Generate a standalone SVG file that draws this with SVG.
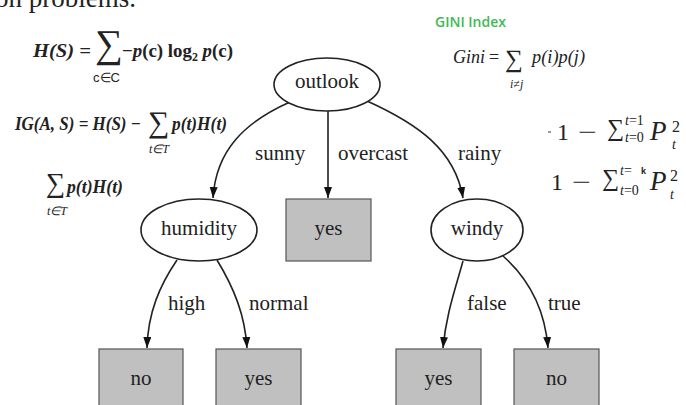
<svg xmlns="http://www.w3.org/2000/svg" width="686" height="405" viewBox="0 0 686 405">
  <style>
    .lbl { font-family: "Liberation Serif", "Times New Roman", serif; font-size: 21px; fill: #222; }
    .nd { font-family: "Liberation Serif", "Times New Roman", serif; font-size: 21px; fill: #222; text-anchor: middle; }
    .ell { fill: #fff; stroke: #222; stroke-width: 1.6; }
    .box { fill: #c0c0c0; stroke: #555; stroke-width: 1.2; }
    .edge { fill: none; stroke: #222; stroke-width: 1.6; }
    .m { font-family: "Liberation Serif", "Times New Roman", serif; fill: #222; }
    .mi { font-family: "Liberation Serif", "Times New Roman", serif; font-style: italic; fill: #222; }
    .ms { font-family: "Liberation Sans", Arial, sans-serif; fill: #222; }
  </style>
  <defs>
    <marker id="arr" markerUnits="userSpaceOnUse" markerWidth="12" markerHeight="9" refX="11" refY="4" orient="auto">
      <path d="M0,0 L11,4 L0,8 z" fill="#111"/>
    </marker>
  </defs>
  <rect width="686" height="405" fill="#fff"/>

  <!-- top cut-off text -->
  <text class="m" x="-5" y="7" font-size="27">on problems.</text>

  <!-- Formula 1: entropy -->
  <g id="formula-entropy">
    <text class="mi" x="33" y="57" font-size="19" font-weight="bold" textLength="58" lengthAdjust="spacingAndGlyphs">H(S) =</text>
    <text class="m" x="95" y="57" font-size="39">∑</text>
    <text class="ms" x="93" y="82" font-size="13">c∈C</text>
    <text class="m" x="122" y="57" font-size="19" font-weight="bold" textLength="111" lengthAdjust="spacingAndGlyphs">−<tspan font-style="italic">p</tspan>(c) log<tspan font-size="12" dy="4">2</tspan><tspan dy="-4"> </tspan><tspan font-style="italic">p</tspan>(c)</text>
  </g>

  <!-- Formula 2: information gain -->
  <g id="formula-ig">
    <text class="mi" x="15" y="130" font-size="19" font-weight="bold" textLength="126" lengthAdjust="spacingAndGlyphs">IG(A, S) = H(S) −</text>
    <text class="m" x="148" y="132" font-size="30">∑</text>
    <text class="mi" x="149" y="153" font-size="12">t∈T</text>
    <text class="mi" x="172" y="130" font-size="19" font-weight="bold" textLength="55" lengthAdjust="spacingAndGlyphs">p(t)H(t)</text>
  </g>

  <!-- Formula 3 -->
  <g id="formula-sum">
    <text class="m" x="46" y="192" font-size="27">∑</text>
    <text class="mi" x="47" y="215" font-size="12">t∈T</text>
    <text class="mi" x="67" y="193" font-size="19" font-weight="bold" textLength="56" lengthAdjust="spacingAndGlyphs">p(t)H(t)</text>
  </g>

  <!-- Gini -->
  <g id="gini">
    <text x="435" y="27" font-family="'Open Sans', 'Liberation Sans', sans-serif" font-size="14" font-weight="600" fill="#3dba55">GINI Index</text>
    <text class="mi" x="453" y="63" font-size="18">Gini</text>
    <text class="m" x="489" y="63" font-size="18">=</text>
    <text class="m" x="505" y="67" font-size="25">∑</text>
    <text class="mi" x="510" y="88" font-size="12">i≠j</text>
    <text class="mi" x="532" y="63" font-size="18" textLength="53" lengthAdjust="spacingAndGlyphs">p(i)p(j)</text>
  </g>

  <!-- Right formulas -->
  <g id="gini-formula-1">
    <rect x="548" y="131" width="3" height="2" fill="#999"/>
    <text class="m" x="557" y="140" font-size="24">1</text>
    <text class="m" x="578" y="140" font-size="24" textLength="19" lengthAdjust="spacingAndGlyphs">−</text>
    <text class="m" x="607" y="136" font-size="24">∑</text>
    <text class="mi" x="625" y="125" font-size="14">t<tspan font-style="normal">=1</tspan></text>
    <text class="mi" x="625" y="142" font-size="14">t<tspan font-style="normal">=0</tspan></text>
    <text class="mi" x="650" y="140" font-size="27">P</text>
    <text class="m" x="672" y="132" font-size="16">2</text>
    <text class="mi" x="672" y="149" font-size="14">t</text>
  </g>
  <g id="gini-formula-2">
    <text class="m" x="551" y="190" font-size="24">1</text>
    <text class="m" x="572" y="190" font-size="24" textLength="19" lengthAdjust="spacingAndGlyphs">−</text>
    <text class="m" x="602" y="186" font-size="24">∑</text>
    <text class="mi" x="620" y="175" font-size="14">t<tspan font-style="normal">=</tspan></text>
    <text class="ms" x="641" y="174" font-size="9" fill="#3dba55" font-weight="bold">k</text>
    <text class="mi" x="620" y="195" font-size="14">t<tspan font-style="normal">=0</tspan></text>
    <text class="mi" x="650" y="190" font-size="27">P</text>
    <text class="m" x="670" y="181" font-size="16">2</text>
    <text class="mi" x="670" y="199" font-size="14">t</text>
  </g>

  <!-- Connectors -->
  <g id="connectors">
    <path class="edge" d="M290,102 C245,122 216,150 213,198" marker-end="url(#arr)"/>
    <path class="edge" d="M328,111 L328,198" marker-end="url(#arr)"/>
    <path class="edge" d="M367,101 C418,124 455,150 463,198" marker-end="url(#arr)"/>
    <path class="edge" d="M177,260 C160,285 148,312 147,348" marker-end="url(#arr)"/>
    <path class="edge" d="M217,260 C234,288 245,315 247,348" marker-end="url(#arr)"/>
    <path class="edge" d="M463,261 C455,290 446,315 443,348" marker-end="url(#arr)"/>
    <path class="edge" d="M503,256 C530,280 545,310 548,348" marker-end="url(#arr)"/>
    <text class="lbl" x="255" y="160">sunny</text>
    <text class="lbl" x="338" y="160">overcast</text>
    <text class="lbl" x="458" y="160">rainy</text>
    <text class="lbl" x="168" y="310">high</text>
    <text class="lbl" x="249" y="310">normal</text>
    <text class="lbl" x="467" y="310">false</text>
    <text class="lbl" x="548" y="310">true</text>
  </g>

  <!-- Nodes -->
  <g id="node-outlook">
    <ellipse class="ell" cx="327" cy="84.5" rx="53" ry="26.5"/>
    <text class="nd" x="327" y="88">outlook</text>
  </g>
  <g id="node-humidity">
    <ellipse class="ell" cx="199" cy="230" rx="58" ry="31"/>
    <text class="nd" x="199" y="235">humidity</text>
  </g>
  <g id="node-overcast-yes">
    <rect class="box" x="286" y="199" width="85" height="62"/>
    <text class="nd" x="328.5" y="235">yes</text>
  </g>
  <g id="node-windy">
    <ellipse class="ell" cx="477" cy="230" rx="46" ry="31"/>
    <text class="nd" x="477" y="235">windy</text>
  </g>
  <g id="node-high-no">
    <rect class="box" x="99" y="349" width="84" height="62"/>
    <text class="nd" x="141" y="385">no</text>
  </g>
  <g id="node-normal-yes">
    <rect class="box" x="216" y="349" width="85" height="62"/>
    <text class="nd" x="258.5" y="385">yes</text>
  </g>
  <g id="node-false-yes">
    <rect class="box" x="396" y="349" width="85" height="62"/>
    <text class="nd" x="438.5" y="385">yes</text>
  </g>
  <g id="node-true-no">
    <rect class="box" x="514" y="349" width="85" height="62"/>
    <text class="nd" x="556.5" y="385">no</text>
  </g>
</svg>
